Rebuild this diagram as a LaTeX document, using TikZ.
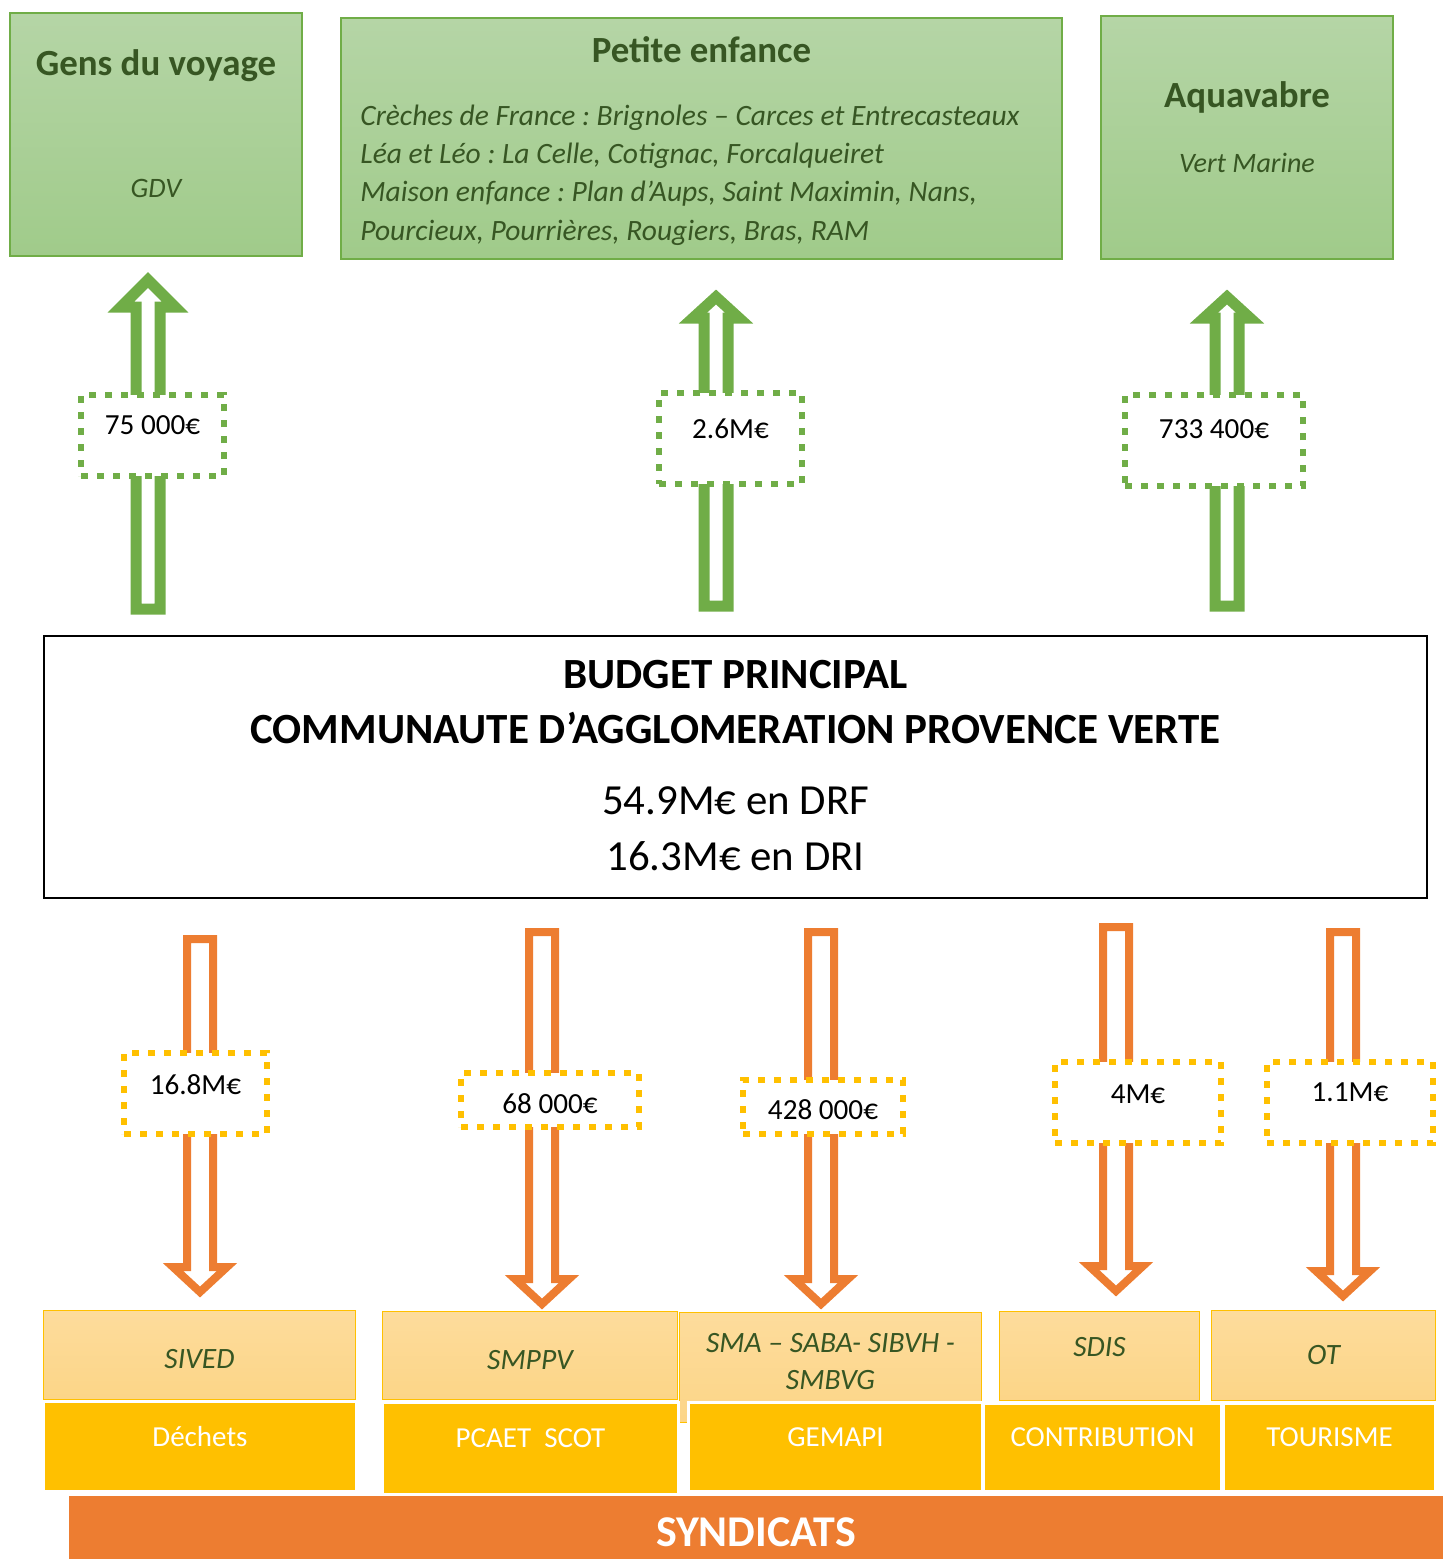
\documentclass[tikz,border=0pt]{standalone}
\usepackage{fontspec}
\setmainfont{Carlito}
\frenchspacing

\newlength{\pix}
\setlength{\pix}{0.02cm}

\definecolor{vert}{HTML}{70AD47}
\definecolor{vertfonce}{HTML}{375623}
\definecolor{verthaut}{HTML}{B5D5A6}
\definecolor{vertbas}{HTML}{A0CB8A}
\definecolor{orangesynd}{HTML}{ED7D31}
\definecolor{jaune}{HTML}{FFC000}
\definecolor{clairhaut}{HTML}{FDDC9C}
\definecolor{clairbas}{HTML}{FCD587}

% flèche montante : x, y pointe, y queue, demi-largeur tête, longueur tête
\newcommand{\flechehaut}[5]{%
  \draw[flecheverte] (#1-12,#3) -- (#1-12,#2+#5) -- (#1-#4,#2+#5) -- (#1,#2)
    -- (#1+#4,#2+#5) -- (#1+12,#2+#5) -- (#1+12,#3) -- cycle;
}
% flèche descendante : x, y haut, y pointe
\newcommand{\flechebas}[3]{%
  \draw[flecheorange] (#1-13,#2) -- (#1-13,#3-25) -- (#1-27,#3-25) -- (#1,#3)
    -- (#1+27,#3-25) -- (#1+13,#3-25) -- (#1+13,#2) -- cycle;
}

\begin{document}
\begin{tikzpicture}[
    x=1\pix, y=-1\pix,
    % Cadres verts du haut
    boiteverte/.style={
        draw=vert, line width=1.5\pix, top color=verthaut,
        bottom color=vertbas, inner sep=0pt
    },
    titre/.style={font=\fontsize{21}{25}\selectfont\bfseries, text=vertfonce, anchor=base},
    sstitre/.style={font=\fontsize{16}{20}\selectfont\itshape, text=vertfonce, anchor=base},
    % Flèches creuses
    flecheverte/.style={draw=vert, line width=11\pix, fill=white, line join=miter},
    flecheorange/.style={draw=orangesynd, line width=8\pix, fill=white, line join=miter},
    % Montants en pointillés
    etiq/.style={
        line width=6\pix, dash pattern=on 7\pix off 9\pix, fill=white,
        font=\fontsize{16.6}{20}\selectfont, inner sep=0pt
    },
    etiqverte/.style={etiq, draw=vert},
    etiqjaune/.style={etiq, draw=jaune},
    % Syndicats
    boiteclaire/.style={
        draw=jaune, line width=1\pix, top color=clairhaut, bottom color=clairbas,
        font=\fontsize{16.8}{21.5}\selectfont\itshape, text=vertfonce, align=center
    },
    boitejaune/.style={
        draw=white, line width=3\pix, fill=jaune, text=white,
        font=\fontsize{16.5}{20}\selectfont, text depth=20\pix
    }
]
\useasboundingbox (0,0) rectangle (1443,1559);

% ---- CADRES DU HAUT ----
\node[boiteverte, minimum width=292\pix, minimum height=243\pix] (gdv) at (156,134.5) {};
\node[titre]   (gdv_t) at (156,75)  {Gens du voyage};
\node[sstitre] (gdv_s) at (156,197) {GDV};

\node[boiteverte, minimum width=721\pix, minimum height=241\pix] (pe) at (701.5,138.5) {};
\node[titre] (pe_t) at (701.5,62) {Petite enfance};
\node[sstitre, anchor=west, align=left, inner sep=0pt,
      font=\fontsize{16.8}{21.9}\selectfont\itshape] (pe_s) at (360,175)
    {Crèches de France : Brignoles – Carces et Entrecasteaux\\
     Léa et Léo : La Celle, Cotignac, Forcalqueiret\\
     Maison enfance : Plan d’Aups, Saint Maximin, Nans,\\
     Pourcieux, Pourrières, Rougiers, Bras, RAM};

\node[boiteverte, minimum width=292\pix, minimum height=243\pix] (aqua) at (1247,137.5) {};
\node[titre]   (aqua_t) at (1247,107) {Aquavabre};
\node[sstitre] (aqua_s) at (1247,172) {Vert Marine};

% ---- FLÈCHES VERS LES CADRES ----
\flechehaut{148}{280}{609}{27}{27}
\flechehaut{716}{297}{606}{23}{21}
\flechehaut{1227}{297}{606}{23}{21}

\node[etiqverte, minimum width=143\pix, minimum height=81\pix, text depth=20\pix] (m_gdv)  at (152.5,435.5) {75 000€};
\node[etiqverte, minimum width=143\pix, minimum height=91\pix, text depth=20\pix] (m_pe)   at (730.5,438.5) {2.6M€};
\node[etiqverte, minimum width=178\pix, minimum height=91\pix, text depth=22\pix] (m_aqua) at (1214,440.5)  {733 400€};

% ---- BUDGET PRINCIPAL ----
\node[draw, line width=2.5\pix, minimum width=1383\pix, minimum height=262\pix] (budget) at (735.5,767) {};
\node[font=\fontsize{24.5}{31.75}\selectfont\bfseries, align=center] (budget_t) at (735.5,702)
    {BUDGET PRINCIPAL\\COMMUNAUTE D’AGGLOMERATION PROVENCE VERTE};
\node[font=\fontsize{24.4}{31.75}\selectfont, align=center] (budget_m) at (735.5,829)
    {54.9M€ en DRF\\16.3M€ en DRI};

% ---- FLÈCHES VERS LES SYNDICATS ----
\flechebas{200}{939}{1292}
\flechebas{542}{932}{1304}
\flechebas{821}{932}{1304}
\flechebas{1116}{927}{1291}
\flechebas{1343}{932}{1296}

\node[etiqjaune, minimum width=143\pix, minimum height=81\pix, text depth=17\pix] (m_sived) at (195.5,1093.5) {16.8M€};
\node[etiqjaune, minimum width=178\pix, minimum height=54\pix, text height=15pt]  (m_smppv) at (550,1100)    {68 000€};
\node[etiqjaune, minimum width=160\pix, minimum height=54\pix, text height=14pt]  (m_sma)   at (823,1107)    {428 000€};
\node[etiqjaune, minimum width=166\pix, minimum height=81\pix, text depth=17\pix] (m_sdis)  at (1138,1102.5) {4M€};
\node[etiqjaune, minimum width=166\pix, minimum height=81\pix, text depth=20\pix] (m_ot)    at (1350,1102.5) {1.1M€};

% ---- SYNDICATS ----
\node[boiteclaire, minimum width=312\pix, minimum height=89\pix, text height=16pt] (sived) at (199.5,1355)  {SIVED};
\node[boiteclaire, minimum width=295\pix, minimum height=88\pix, text height=16pt] (smppv) at (530,1355.5)  {SMPPV};
\node[boiteclaire, minimum width=302\pix, minimum height=110\pix, text depth=7pt] (sma) at (830.5,1367.5) {SMA – SABA- SIBVH -\\SMBVG};
\node[boiteclaire, minimum width=200\pix, minimum height=89\pix, text depth=18\pix] (sdis) at (1099.5,1356) {SDIS};
\node[boiteclaire, minimum width=224\pix, minimum height=90\pix]  (ot)    at (1323.5,1355.5) {OT};

\node[boitejaune, minimum width=313\pix, minimum height=90\pix] (dechets)  at (200,1446.5)    {Déchets};
\node[boitejaune, minimum width=296\pix, minimum height=92\pix] (pcaet)    at (530.5,1448.5)  {PCAET\ \ SCOT};
\node[boitejaune, minimum width=294\pix, minimum height=89\pix] (gemapi)   at (835.5,1447)    {GEMAPI};
\node[boitejaune, minimum width=238\pix, minimum height=88\pix] (contrib)  at (1102.5,1447.5) {CONTRIBUTION};
\node[boitejaune, minimum width=212\pix, minimum height=88\pix] (tourisme) at (1329.5,1447.5) {TOURISME};

\node[fill=orangesynd, text=white, font=\fontsize{25}{30}\selectfont\bfseries,
      minimum width=1374\pix, minimum height=63\pix, text height=22pt] (syndicats) at (756,1527.5) {SYNDICATS};

\end{tikzpicture}
\end{document}
